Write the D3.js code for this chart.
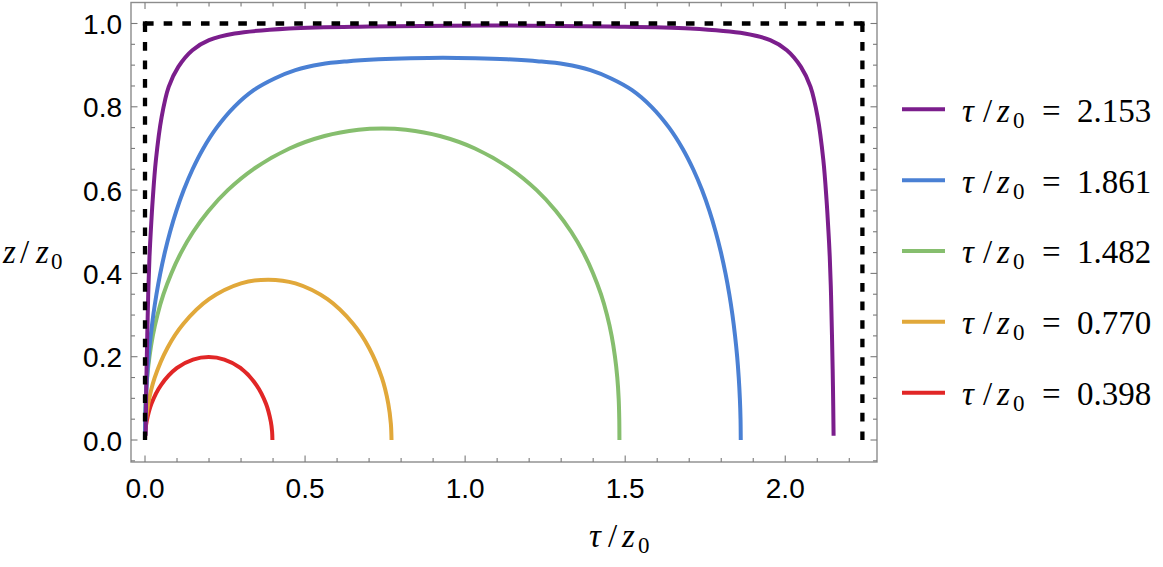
<!DOCTYPE html>
<html><head><meta charset="utf-8">
<script src="https://cdn.jsdelivr.net/npm/d3@7"></script>
<style>body{margin:0;background:#fff}</style>
</head><body><svg id="c" width="1163" height="567"></svg>
<script>
// ---------- data ----------
const seriesLabels = ["2.153", "1.861", "1.482", "0.770", "0.398"];
const purpleX = [0.002,0.004,0.007,0.010,0.014,0.018,0.024,0.034,0.052,0.074,0.104,0.148,0.200,0.280,0.450,0.700,1.077,1.453,1.703,1.873,1.953,2.005,2.049,2.079,2.101,2.119,2.129,2.135,2.139,2.143,2.146,2.149,2.151];
const purpleZ = [0.010,0.130,0.250,0.350,0.440,0.500,0.576,0.672,0.776,0.848,0.896,0.936,0.960,0.976,0.988,0.993,0.995,0.993,0.988,0.976,0.960,0.936,0.896,0.848,0.776,0.672,0.576,0.500,0.440,0.350,0.250,0.130,0.010];
const blueX = [0,0.0007,0.0028,0.0063,0.0112,0.0178,0.0259,0.0358,0.0477,0.0618,0.0784,0.0979,0.1210,0.1486,0.1820,0.2239,0.2788,0.3395,0.4049,0.4698,0.5495,0.6301,0.7295,0.8300,0.9305,1.0310,1.1315,1.2309,1.3115,1.3912,1.4561,1.5215,1.5822,1.6371,1.6790,1.7124,1.7400,1.7631,1.7826,1.7992,1.8133,1.8252,1.8351,1.8432,1.8498,1.8547,1.8582,1.8603,1.861];
const blueZ = [0,0.05,0.10,0.15,0.20,0.25,0.30,0.35,0.40,0.45,0.50,0.55,0.60,0.65,0.70,0.75,0.80,0.84,0.868,0.888,0.902,0.909,0.914,0.9168,0.918,0.9168,0.914,0.909,0.902,0.888,0.868,0.84,0.80,0.75,0.70,0.65,0.60,0.55,0.50,0.45,0.40,0.35,0.30,0.25,0.20,0.15,0.10,0.05,0];
const greenX = [0,0.0005,0.0024,0.0067,0.0139,0.0243,0.0388,0.0577,0.0822,0.1126,0.1507,0.1984,0.2586,0.3379,0.4513,0.5609,0.667,0.741,0.815,0.9211,1.0307,1.1441,1.2234,1.2836,1.3313,1.3694,1.3998,1.4243,1.4432,1.4577,1.4681,1.4753,1.4796,1.4815,1.482];
const greenZ = [0,0.05,0.10,0.15,0.20,0.25,0.30,0.35,0.40,0.45,0.50,0.55,0.60,0.65,0.70,0.73,0.745,0.748,0.745,0.73,0.70,0.65,0.60,0.55,0.50,0.45,0.40,0.35,0.30,0.25,0.20,0.15,0.10,0.05,0];
const orangeX = [0,0.002,0.010,0.030,0.070,0.120,0.200,0.300,0.385,0.470,0.570,0.650,0.700,0.740,0.760,0.768,0.770];
const orangeZ = [0,0.039,0.087,0.149,0.221,0.279,0.338,0.376,0.385,0.376,0.338,0.279,0.221,0.149,0.087,0.039,0];
const redX = [0,0.001,0.005,0.020,0.050,0.100,0.150,0.199,0.248,0.298,0.348,0.378,0.393,0.397,0.398];
const redZ = [0,0.020,0.044,0.087,0.132,0.173,0.193,0.199,0.193,0.173,0.132,0.087,0.044,0.020,0];
const boxX = [0, 0, 2.241, 2.241];
const boxZ = [0, 1, 1, 0];
const xMajorTicks = [0, 0.5, 1.0, 1.5, 2.0];
const xMinorTicks = [0.1,0.2,0.3,0.4,0.6,0.7,0.8,0.9,1.1,1.2,1.3,1.4,1.6,1.7,1.8,1.9,2.1,2.2];
const yMajorTicks = [0, 0.2, 0.4, 0.6, 0.8, 1.0];
const yMinorTicks = [-0.05,0.05,0.1,0.15,0.25,0.3,0.35,0.45,0.5,0.55,0.65,0.7,0.75,0.85,0.9,0.95];

// ---------- styles ----------
const colors = ["#7B1E8C", "#4A80D4", "#86BE6E", "#E1A83A", "#E12626"];
const series = [
  {x: purpleX, z: purpleZ},
  {x: blueX, z: blueZ},
  {x: greenX, z: greenZ},
  {x: orangeX, z: orangeZ},
  {x: redX, z: redZ}
];

const svg = d3.select("#c");
const L = 131, R = 877, T = 2.5, B = 462;
const x = d3.scaleLinear().domain([-0.04375, 2.2866]).range([L, R]);
const y = d3.scaleLinear().domain([-0.0528, 1.0504]).range([B, T]);

const line = d3.line().x(d => x(d[0])).y(d => y(d[1])).curve(d3.curveCatmullRom.alpha(0.5));

const g = svg.append("g");
for (let i = series.length - 1; i >= 0; i--) {
  const pts = series[i].x.map((v, k) => [v, series[i].z[k]]);
  g.append("path").attr("d", line(pts)).attr("fill", "none")
    .attr("stroke", colors[i]).attr("stroke-width", 4)
    .attr("stroke-linejoin", "round");
}
// dashed box: each side drawn separately so it starts and ends with a dash
const dashLen = 8.6, period = 18.6;
for (let k = 0; k < boxX.length - 1; k++) {
  const x1 = x(boxX[k]), y1 = y(boxZ[k]), x2 = x(boxX[k + 1]), y2 = y(boxZ[k + 1]);
  const len = Math.hypot(x2 - x1, y2 - y1);
  const n = Math.max(1, Math.round((len - dashLen) / period));
  const gap = (len - dashLen) / n - dashLen;
  svg.append("line").attr("x1", x1).attr("y1", y1).attr("x2", x2).attr("y2", y2)
    .attr("stroke", "#000").attr("stroke-width", 4.3)
    .attr("stroke-dasharray", dashLen + "," + gap);
}
[[boxX[1], boxZ[1]], [boxX[2], boxZ[2]]].forEach(p => {
  svg.append("rect").attr("x", x(p[0]) - 2.15).attr("y", y(p[1]) - 2.15)
    .attr("width", 4.3).attr("height", 4.3).attr("fill", "#000");
});

// frame
const frameCol = "#8c8c8c";
svg.append("rect").attr("x", L).attr("y", T).attr("width", R - L).attr("height", B - T)
  .attr("fill", "none").attr("stroke", frameCol).attr("stroke-width", 1.4);

const tickCol = "#7a7a7a";
function xt(vals, len) {
  vals.forEach(v => {
    svg.append("line").attr("x1", x(v)).attr("x2", x(v)).attr("y1", B).attr("y2", B - len)
      .attr("stroke", tickCol).attr("stroke-width", 1.1);
    svg.append("line").attr("x1", x(v)).attr("x2", x(v)).attr("y1", T).attr("y2", T + len)
      .attr("stroke", tickCol).attr("stroke-width", 1.1);
  });
}
function yt(vals, len) {
  vals.forEach(v => {
    svg.append("line").attr("x1", L).attr("x2", L + len).attr("y1", y(v)).attr("y2", y(v))
      .attr("stroke", tickCol).attr("stroke-width", 1.1);
    svg.append("line").attr("x1", R).attr("x2", R - len).attr("y1", y(v)).attr("y2", y(v))
      .attr("stroke", tickCol).attr("stroke-width", 1.1);
  });
}
xt(xMajorTicks, 6.5); xt(xMinorTicks, 4);
yt(yMajorTicks, 6.5); yt(yMinorTicks, 4);

const fmt = d3.format(".1f");
const lab = "'Liberation Sans', Arial, sans-serif";
xMajorTicks.forEach(v => {
  svg.append("text").attr("x", x(v)).attr("y", 498).attr("text-anchor", "middle")
    .attr("font-family", lab).attr("font-size", 28).attr("fill", "#000").text(fmt(v));
});
yMajorTicks.forEach(v => {
  svg.append("text").attr("x", 122).attr("y", y(v) + 10.5).attr("text-anchor", "end")
    .attr("font-family", lab).attr("font-size", 28).attr("fill", "#000").text(fmt(v));
});

// math-style labels: pieces placed at offsets from the start x
const serif = "'Liberation Serif', 'Times New Roman', serif";
function mathLabel(x0, yb, first, rest, offs) {
  const t = svg.append("text").attr("y", yb)
    .attr("font-family", serif).attr("font-size", 33).attr("fill", "#000");
  t.append("tspan").attr("x", x0 + offs[0]).attr("font-style", "italic").text(first);
  t.append("tspan").attr("x", x0 + offs[1]).text("/");
  t.append("tspan").attr("x", x0 + offs[2]).attr("font-style", "italic").text("z");
  t.append("tspan").attr("x", x0 + offs[3]).attr("font-size", 23).attr("dy", 6).text("0");
  if (rest) {
    t.append("tspan").attr("x", x0 + 80).attr("dy", -6).text("=");
    t.append("tspan").attr("x", x0 + 115).text(rest);
  }
  return t;
}
mathLabel(589, 547, "\u03C4", null, [0, 19, 33, 49]);
mathLabel(3, 263, "z", null, [0, 17, 33, 48]);

// legend
seriesLabels.forEach((s, i) => {
  const cy = 109.3 + 70.85 * i;
  svg.append("line").attr("x1", 902).attr("x2", 945).attr("y1", cy).attr("y2", cy)
    .attr("stroke", colors[i]).attr("stroke-width", 4);
  mathLabel(962, cy + 12.4, "\u03C4", s, [0, 21, 35, 51]);
});
</script></body></html>
